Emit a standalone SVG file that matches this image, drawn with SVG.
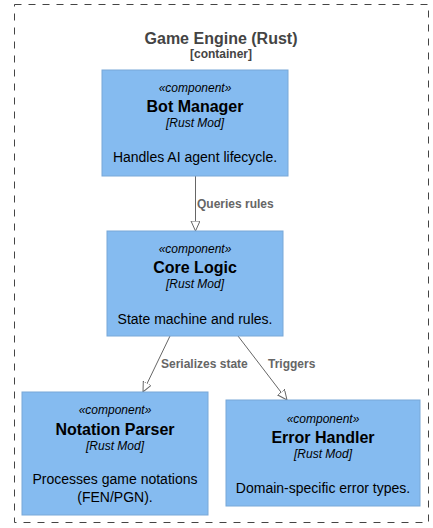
<svg xmlns="http://www.w3.org/2000/svg" width="433" height="528" viewBox="0 0 433 528">
<defs>
<marker id="arr" markerWidth="12" markerHeight="10" refX="10" refY="4.5" orient="auto" markerUnits="userSpaceOnUse">
<path d="M0,0 L10,4.5 L0,9 Z" fill="#ffffff" stroke="#666666" stroke-width="1"/>
</marker>
<style>
.box{fill:#85BBF0;stroke:#78A8D8;stroke-width:1}
text{font-family:"Liberation Sans",Arial,sans-serif;text-anchor:middle;fill:#000}
.st{font-size:12px;font-style:italic}
.tt{font-size:16px;font-weight:bold}
.ds{font-size:14px}
.lb{font-size:12px;font-weight:bold;fill:#666;text-anchor:start}
.edge{stroke:#666;stroke-width:1;fill:none;marker-end:url(#arr)}
</style>
</defs>
<rect width="433" height="528" fill="#ffffff"/>
<g id="container">
<rect x="14.5" y="4.5" width="414" height="518" fill="none" stroke="#444" stroke-width="1" stroke-dasharray="7,7"/>
<text x="221" y="44" class="tt" style="fill:#444">Game Engine (Rust)</text>
<text x="221" y="58" style="font-size:12px;font-weight:bold;fill:#444">[container]</text>
</g>
<g id="connectors">
<line class="edge" x1="195.5" y1="176" x2="195.5" y2="231"/>
<line class="edge" x1="170" y1="336" x2="143" y2="392"/>
<line class="edge" x1="238" y1="336" x2="287" y2="400"/>
<text x="197" y="208" class="lb">Queries rules</text>
<text x="161" y="368" class="lb">Serializes state</text>
<text x="268" y="368" class="lb">Triggers</text>
</g>
<g id="bot-manager">
<rect class="box" x="102" y="70" width="186" height="106"/>
<text x="195" y="92" class="st">«component»</text>
<text x="195" y="112" class="tt">Bot Manager</text>
<text x="195" y="127" class="st">[Rust Mod]</text>
<text x="195" y="162" class="ds">Handles AI agent lifecycle.</text>
</g>
<g id="core-logic">
<rect class="box" x="107" y="231" width="176" height="105"/>
<text x="195" y="253" class="st">«component»</text>
<text x="195" y="273" class="tt">Core Logic</text>
<text x="195" y="288" class="st">[Rust Mod]</text>
<text x="195" y="324" class="ds">State machine and rules.</text>
</g>
<g id="notation-parser">
<rect class="box" x="22" y="392" width="186" height="123"/>
<text x="115" y="414" class="st">«component»</text>
<text x="115" y="435" class="tt">Notation Parser</text>
<text x="115" y="450" class="st">[Rust Mod]</text>
<text x="115" y="484" class="ds">Processes game notations</text>
<text x="115" y="502" class="ds">(FEN/PGN).</text>
</g>
<g id="error-handler">
<rect class="box" x="226" y="400" width="194" height="106"/>
<text x="323" y="423" class="st">«component»</text>
<text x="323" y="443" class="tt">Error Handler</text>
<text x="323" y="458" class="st">[Rust Mod]</text>
<text x="323" y="493" class="ds">Domain-specific error types.</text>
</g>
</svg>
